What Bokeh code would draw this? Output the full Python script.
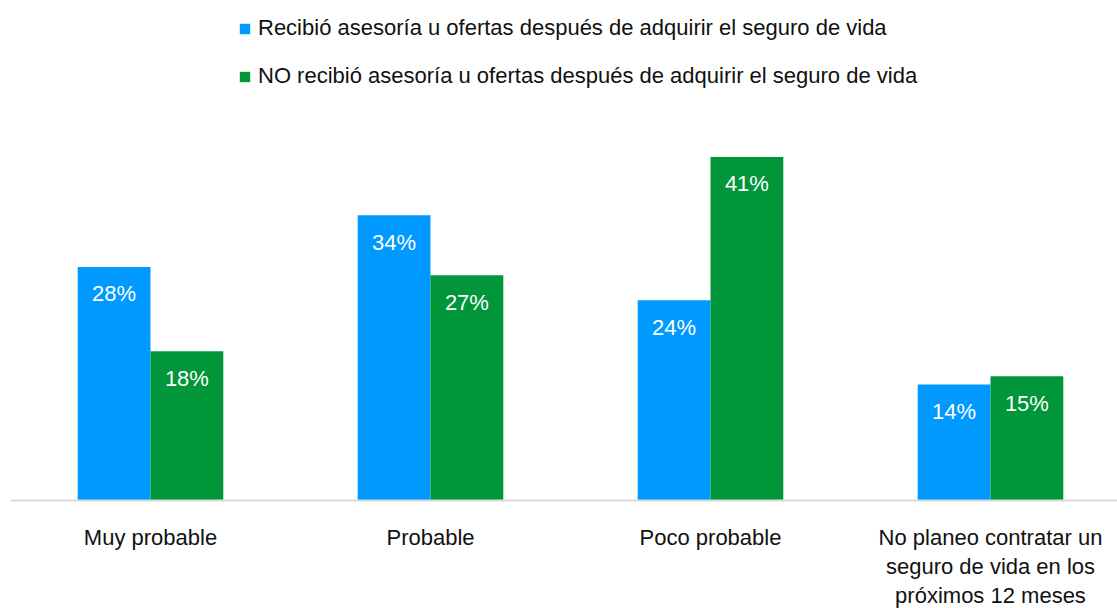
from bokeh.plotting import figure
from bokeh.models import ColumnDataSource, Range1d, Legend, LegendItem, Span
from bokeh.core.properties import value
from bokeh.embed import file_html
from bokeh.resources import INLINE

categories = ["Muy probable", "Probable", "Poco probable",
              "No planeo contratar un\nseguro de vida en los\npróximos 12 meses"]
series_names = ["Recibió asesoría u ofertas después de adquirir el seguro de vida",
                "NO recibió asesoría u ofertas después de adquirir el seguro de vida"]
recibio = [28.0, 34.2, 24.0, 13.9]
no_recibio = [17.9, 27.0, 41.2, 14.9]
colors = ["#0099FF", "#009639"]

FONT = "Liberation Sans"
W, H = 1117, 608
LEFT = 10
BASE_PX = 500          # baseline position from top
frame_w = W - LEFT
frame_h = H
px_per_group = 280.0
px_per_pct = 8.34

centers = [i + 0.5 for i in range(len(categories))]
dodge = 0.13
bw = 0.26

p = figure(width=W, height=H, output_backend="svg", toolbar_location=None,
           x_range=Range1d(0, frame_w / px_per_group),
           y_range=Range1d(-(H - BASE_PX) / px_per_pct, BASE_PX / px_per_pct),
           min_border_left=LEFT, min_border_right=0, min_border_top=0,
           min_border_bottom=0)
p.outline_line_color = None
p.grid.visible = False
p.axis.visible = False
p.background_fill_color = "white"
p.border_fill_color = "white"

p.add_layout(Span(location=0, dimension="width", line_color="#d9d9d9", line_width=2))

src1 = ColumnDataSource(dict(x=[c - dodge for c in centers], top=recibio,
                             lab=[f"{v:.0f}%" for v in recibio]))
src2 = ColumnDataSource(dict(x=[c + dodge for c in centers], top=no_recibio,
                             lab=[f"{v:.0f}%" for v in no_recibio]))

r1 = p.vbar(x="x", top="top", bottom=0, width=bw, source=src1, fill_color=colors[0], line_color=None)
r2 = p.vbar(x="x", top="top", bottom=0, width=bw, source=src2, fill_color=colors[1], line_color=None)

for s in (src1, src2):
    p.text(x="x", y="top", text="lab", source=s, text_color="white",
           text_font=value(FONT), text_font_size="22px",
           text_align="center", text_baseline="middle", y_offset=27)

csrc = ColumnDataSource(dict(x=centers, y=[0] * len(categories), t=categories))
p.text(x="x", y="y", text="t", source=csrc, text_color="#111111",
       text_font=value(FONT), text_font_size="22px", text_align="center",
       text_baseline="top", y_offset=24, text_line_height=1.17)

legend = Legend(items=[LegendItem(label=series_names[0], renderers=[r1]),
                       LegendItem(label=series_names[1], renderers=[r2])],
                location=(228, frame_h - 91), orientation="vertical",
                glyph_width=13, glyph_height=13, label_text_font=FONT,
                label_text_font_size="22px", label_text_color="#111111",
                label_height=30, spacing=18, padding=0, margin=0,
                border_line_color=None, background_fill_alpha=0,
                label_standoff=7)
p.add_layout(legend, "center")

open("out.html", "w").write(file_html(p, INLINE))
